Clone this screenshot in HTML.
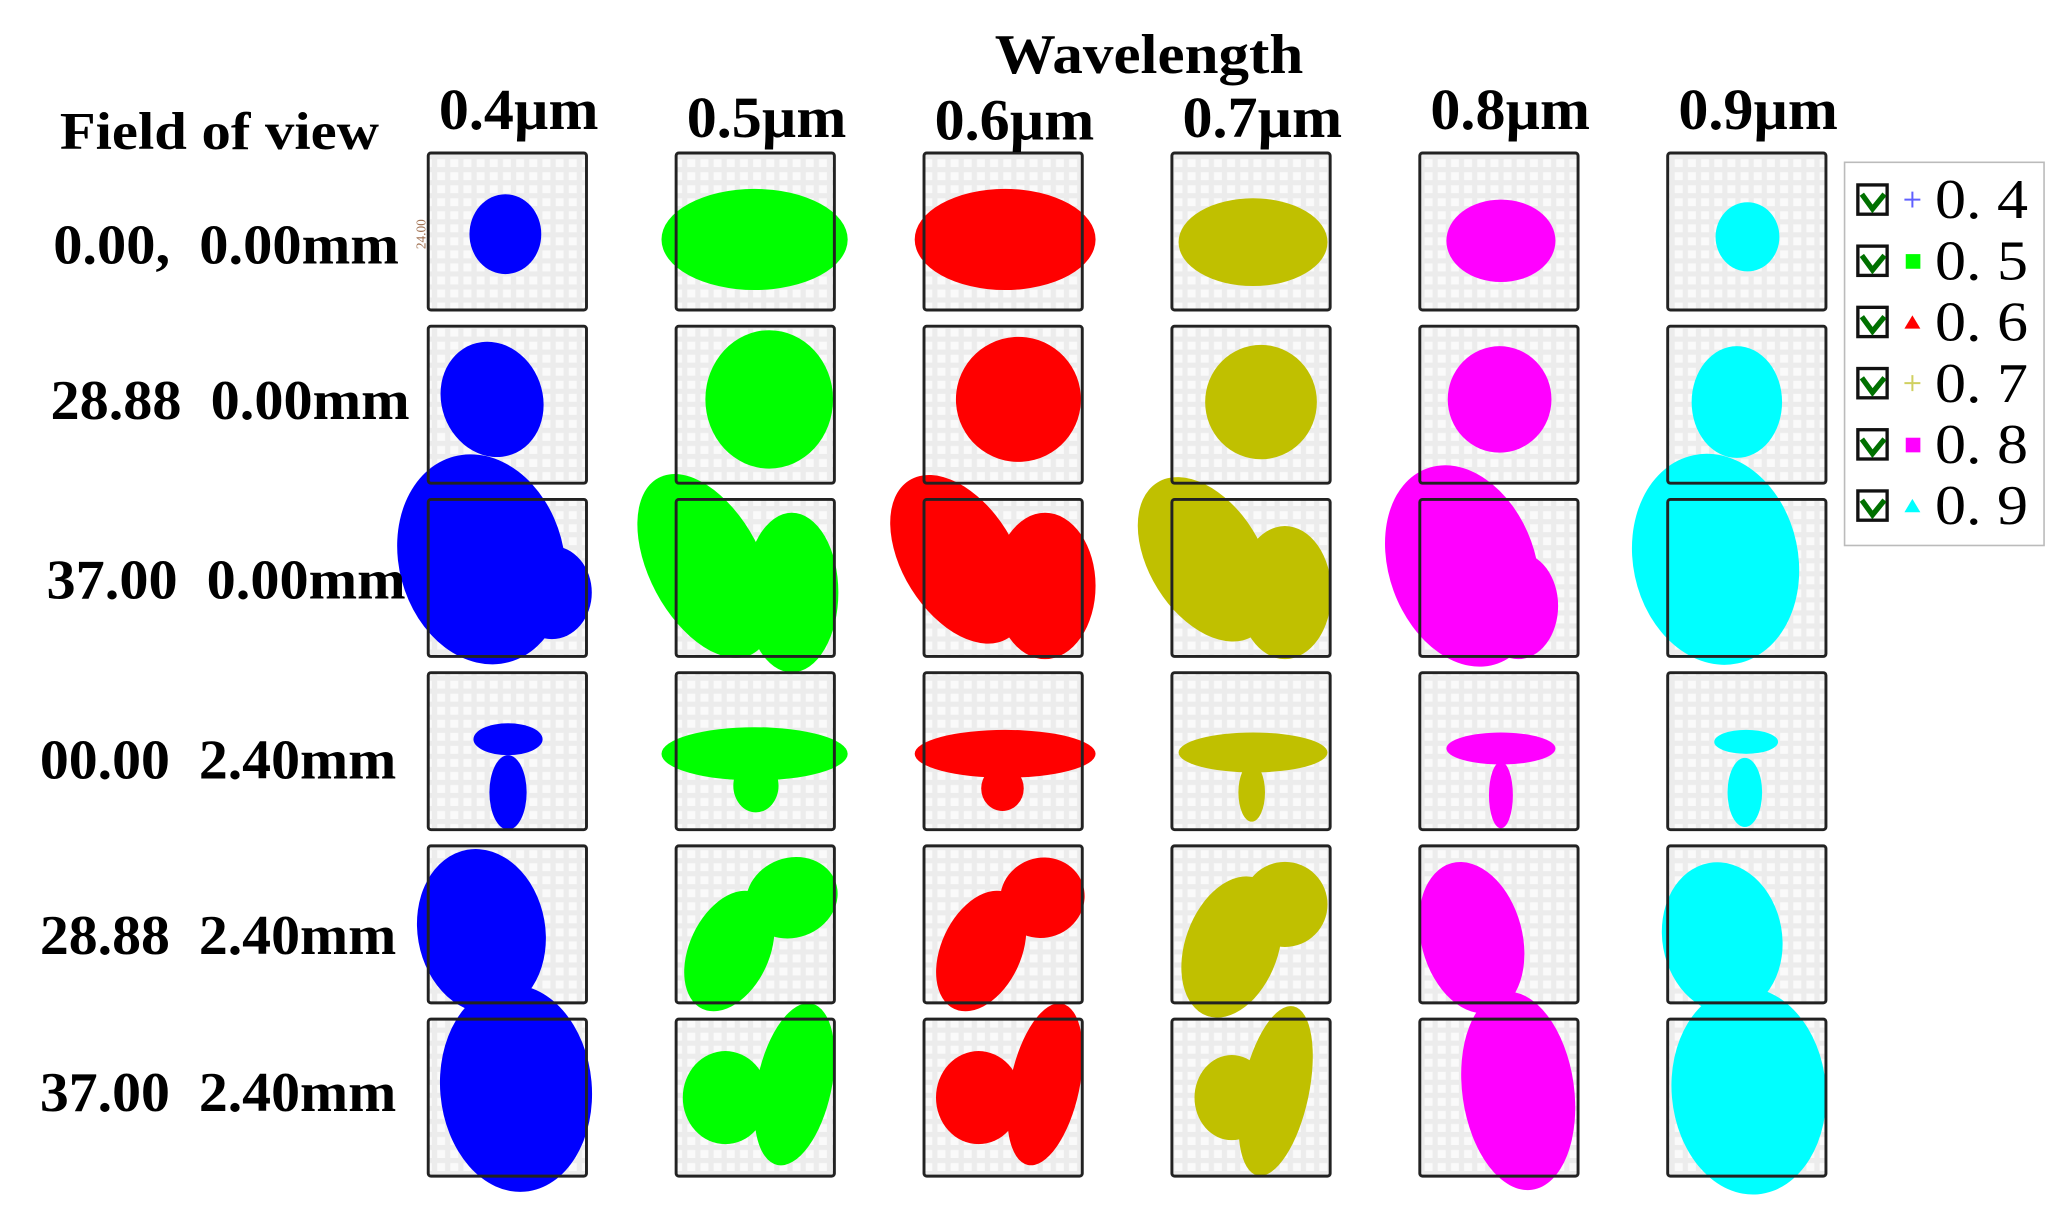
<!DOCTYPE html>
<html><head><meta charset="utf-8"><style>
html,body{margin:0;padding:0;background:#fff;}
svg{display:block;}
</style></head><body>
<svg id="chart" width="2064" height="1224" viewBox="0 0 1552 920" preserveAspectRatio="none" xmlns="http://www.w3.org/2000/svg">
<defs>
<pattern id="grid" width="9.9" height="9.8" patternUnits="userSpaceOnUse">
<rect width="9.9" height="9.8" fill="#ececec"/>
<rect x="2" y="2" width="6" height="6" fill="#fafafa"/>
</pattern>
</defs>
<text x="748" y="55" textLength="232" lengthAdjust="spacingAndGlyphs" font-family="Liberation Serif, serif" font-weight="bold" font-size="42">Wavelength</text>
<text x="45" y="112" textLength="240" lengthAdjust="spacingAndGlyphs" font-family="Liberation Serif, serif" font-weight="bold" font-size="40">Field of view</text>
<text transform="translate(320,176) rotate(-90)" text-anchor="middle" font-family="Liberation Serif, serif" font-size="10" fill="#a07050">24.00</text>
<g id="cells"></g>
<g id="labels"></g>
<g id="legend"></g>
</svg>
<script>
const wavelengths = ["0.4µm","0.5µm","0.6µm","0.7µm","0.8µm","0.9µm"];
const fields = ["0.00,  0.00mm","28.88  0.00mm","37.00  0.00mm","00.00  2.40mm","28.88  2.40mm","37.00  2.40mm"];
const legendLabels = ["0. 4","0. 5","0. 6","0. 7","0. 8","0. 9"];
const colors = ["#0000ff","#00ff00","#ff0000","#c0c000","#ff00ff","#00ffff"];
const markers = ["plus","square","triangle","plus","square","triangle"];
// spot blobs per [row][col]: [cx, cy, rx, ry, rotation] relative to cell origin
const spots = [
 [[[58,61,27,30,0]],[[59,65,70,38,0]],[[61,65,68,38,0]],[[61,67,56,33,0]],[[61,66,41,31,0]],[[60,63,24,26,0]]],
 [[[48,55,38,44,-20]],[[70,55,48,52,0]],[[71,55,47,47,-15]],[[67,57,42,43,0]],[[60,55,39,40,0]],[[52,57,34,42,0]]],
 [[[40,45,62,80,-15],[93,70,30,35,0]],[[22,50,42,75,-28],[87,70,35,60,0]],[[26,45,42,70,-32],[91,65,38,55,0]],[[25,45,42,68,-32],[85,70,35,50,0]],[[32,50,55,78,-20],[74,80,30,40,0]],[[36,45,62,80,-12]]],
 [[[60,50,26,12,0],[60,90,14,28,0]],[[59,61,70,20,0],[60,85,17,20,0]],[[61,61,68,18,0],[59,87,16,17,0]],[[61,60,56,15,0],[60,90,10,22,0]],[[61,57,41,12,0],[61,92,9,25,0]],[[59,52,24,9,0],[58,90,13,26,0]]],
 [[[40,64,48,62,-10]],[[40,79,30,48,25],[87,39,35,30,-20]],[[43,79,30,48,25],[89,39,32,30,-20]],[[45,76,35,55,20],[85,44,32,32,0]],[[39,69,38,58,-15]],[[41,69,45,57,-10]]],
 [[[66,52,57,78,-5]],[[37,59,32,35,0],[89,49,28,62,12]],[[41,59,32,35,0],[91,49,26,62,12]],[[45,59,28,32,0],[78,54,25,65,12]],[[74,54,42,75,-8]],[[61,54,58,78,-5]]]
];
const headerBaselines = [97,103,105,103,97,97];
const fieldBaselines = [198,315,450,585,717,835];
const fieldStarts = [40,38,35,30,30,30];
const fieldEnds = [300,308,305,298,298,298];
const NS="http://www.w3.org/2000/svg";
const colLeft = i => 322 + i*186.4;
const rowTop = j => 115 + j*130.2;
const BW=119, BH=118;
function mk(tag, attrs){const e=document.createElementNS(NS,tag);for(const k in attrs)e.setAttribute(k,attrs[k]);return e;}
const cells=document.getElementById('cells');
const bgLayer=mk('g',{}), spotLayer=mk('g',{}), borderLayer=mk('g',{});
cells.appendChild(bgLayer);cells.appendChild(spotLayer);cells.appendChild(borderLayer);
for(let r=0;r<fields.length;r++){
 for(let c=0;c<wavelengths.length;c++){
  const x=colLeft(c), y=rowTop(r);
  const bg=mk('rect',{x:x,y:y,width:BW,height:BH,fill:'url(#grid)'});
  
  
  bgLayer.appendChild(bg);
  const g=mk('g',{});
  
  
  spots[r][c].forEach(s=>{
   const e=mk('ellipse',{cx:x+s[0],cy:y+s[1],rx:s[2],ry:s[3],fill:colors[c],transform:'rotate('+s[4]+' '+(x+s[0])+' '+(y+s[1])+')'});
   
   
   g.appendChild(e);
  });
  spotLayer.appendChild(g);
  const b=mk('rect',{x:x,y:y,width:BW,height:BH,rx:2,fill:'none',stroke:'#222','stroke-width':2.2});
  
  
  borderLayer.appendChild(b);
 }
}
const labels=document.getElementById('labels');
wavelengths.forEach((w,c)=>{
 const t=mk('text',{x:colLeft(c)+8,y:headerBaselines[c],textLength:120,lengthAdjust:'spacingAndGlyphs','font-family':'Liberation Serif, serif','font-weight':'bold','font-size':44});
 
 
 t.textContent=w;labels.appendChild(t);
});
fields.forEach((f,r)=>{
 const t=mk('text',{x:fieldStarts[r],y:fieldBaselines[r],textLength:fieldEnds[r]-fieldStarts[r],lengthAdjust:'spacingAndGlyphs','font-family':'Liberation Serif, serif','font-weight':'bold','font-size':42});
 
 
 t.style.whiteSpace='pre';
 t.textContent=f;labels.appendChild(t);
});
const leg=document.getElementById('legend');
const lb=mk('rect',{x:1387,y:122,width:150,height:288,fill:'#fff',stroke:'#bbb','stroke-width':1.2});


leg.appendChild(lb);
legendLabels.forEach((l,i)=>{
 const cy=150+i*46;
 const g=mk('g',{});
 
 
 const cb=mk('rect',{x:1397,y:cy-11,width:22,height:22,fill:'#fff',stroke:'#111','stroke-width':2.5});
 
 
 g.appendChild(cb);
 const ck=mk('path',{d:'M1400 '+(cy-4)+' L1408 '+(cy+7)+' L1417 '+(cy-4),fill:'none',stroke:'#007000','stroke-width':4});
 
 
 g.appendChild(ck);
 let m;
 if(markers[i]==='plus') m=mk('path',{d:'M1432 '+cy+' H1444 M1438 '+(cy-6)+' V'+(cy+6),stroke:colors[i]==='#0000ff'?'#6060ff':'#d0d060','stroke-width':1.5,fill:'none'});
 else if(markers[i]==='square') m=mk('rect',{x:1433,y:cy-5,width:11,height:11,fill:colors[i]});
 else m=mk('path',{d:'M1432 '+(cy+5)+' L1438 '+(cy-5)+' L1444 '+(cy+5)+' Z',fill:colors[i]});
 
 
 g.appendChild(m);
 const t=mk('text',{x:1455,y:cy+14,textLength:70,lengthAdjust:'spacingAndGlyphs','font-family':'Liberation Serif, serif','font-size':42});
 
 
 t.style.whiteSpace='pre';
 t.textContent=l;g.appendChild(t);
 leg.appendChild(g);
});
</script>
</body></html>
